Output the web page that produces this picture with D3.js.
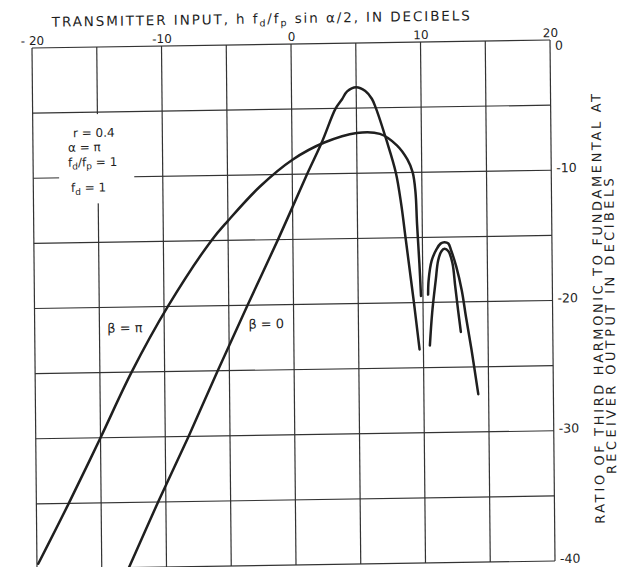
<!DOCTYPE html>
<html><head><meta charset="utf-8">
<script src="https://cdn.jsdelivr.net/npm/d3@7/dist/d3.min.js"></script>
<style>body{margin:0;background:#fff}</style>
</head><body>
<svg id="chart" width="622" height="567"></svg>
<script>
// ---- data ----
const xTickValues = [-20, -10, 0, 10, 20];
const xTickLabels = ["- 20", "-10", "0", "10", "20"];
const yTickValues = [0, -10, -20, -30, -40];
const yTickLabels = ["0", "-10", "-20", "-30", "-40"];
const xGridValues = [-20, -15, -10, -5, 0, 5, 10, 15, 20];
const yGridValues = [0, -5, -10, -15, -20, -25, -30, -35, -40];

// beta = pi : main lobe and second lobe
const betaPiMainX = [-19.9, -17.5, -15, -12.55, -9.7, -6.3, -5, -2.5, 0, 2.5, 5, 6.8, 8.1, 8.9, 9.3, 9.5, 9.6, 9.75, 9.85];
const betaPiMainY = [-39.6, -35, -30, -25, -20, -15, -13.5, -10.9, -8.9, -7.6, -6.9, -7.0, -7.9, -9.0, -10, -11.5, -14, -17, -19.5];
const betaPiLobeX = [10.4, 10.45, 10.7, 11.1, 11.4, 11.7, 12.0, 12.2, 12.6, 13.0, 13.3, 13.7, 14.2];
const betaPiLobeY = [-19.4, -18.3, -16.8, -15.9, -15.5, -15.4, -15.5, -16.0, -17.3, -19.1, -21.1, -23.6, -27.1];

// beta = 0 : main lobe and second lobe
const betaZeroMainX = [-12.9, -10.6, -8.2, -5.9, -3.55, -1.15, 1.15, 2.3, 3.4, 3.9, 4.3, 5, 5.7, 6.2, 6.5, 7.3, 8.0, 8.4, 8.7, 9.0, 9.3, 9.7];
const betaZeroMainY = [-40, -35, -30, -25, -20, -15, -10, -7.6, -5, -4.3, -3.7, -3.4, -3.7, -4.3, -5, -7.5, -10, -12.5, -15, -17.5, -20, -23.6];
const betaZeroLobeX = [10.5, 10.7, 11.0, 11.2, 11.45, 11.7, 12.0, 12.3, 12.5, 12.7, 12.9];
const betaZeroLobeY = [-23.3, -20.8, -18.3, -16.8, -16.1, -15.9, -16.1, -17.0, -18.8, -20.6, -22.3];

const rightTitle1 = "RATIO OF THIRD HARMONIC TO FUNDAMENTAL AT";
const rightTitle2 = "RECEIVER OUTPUT IN DECIBELS";

// ---- layout ----
const W = 518, H = 521;
const FONT = "'DejaVu Sans', sans-serif";
const INK = "#1f1f1f";
const x = d3.scaleLinear().domain([-20, 20]).range([0, W]);
const y = d3.scaleLinear().domain([0, -40]).range([0, H]);

const svg = d3.select("#chart");
svg.append("rect").attr("width", 622).attr("height", 567).attr("fill", "#fff");
// the scanned sheet is slightly skewed
const g = svg.append("g").attr("transform", "matrix(1,-0.0154,0.0096,1,32,48)");

// grid
const grid = g.append("g").attr("stroke", "#333").attr("stroke-width", 1.2).attr("fill", "none");
grid.selectAll("line.v").data(xGridValues).join("line").attr("class", "v")
  .attr("x1", d => x(d)).attr("x2", d => x(d)).attr("y1", y(0)).attr("y2", y(-40));
grid.selectAll("line.h").data(yGridValues).join("line").attr("class", "h")
  .attr("x1", x(-20)).attr("x2", x(20)).attr("y1", d => y(d)).attr("y2", d => y(d));

// white patch behind the parameter notes
g.append("rect").attr("x", x(-18.0)).attr("y", y(-5.15))
  .attr("width", x(-12.2) - x(-18.0)).attr("height", y(-12.0) - y(-5.15)).attr("fill", "#fff");

// curves
const line = d3.line().x(d => x(d[0])).y(d => y(d[1])).curve(d3.curveCatmullRom.alpha(0.5));
const series = [
  [betaPiMainX, betaPiMainY], [betaPiLobeX, betaPiLobeY],
  [betaZeroMainX, betaZeroMainY], [betaZeroLobeX, betaZeroLobeY]
];
g.append("g").selectAll("path").data(series).join("path")
  .attr("d", s => line(s[0].map((v, i) => [v, s[1][i]])))
  .attr("fill", "none").attr("stroke", INK).attr("stroke-width", 2.5)
  .attr("stroke-linecap", "round").attr("stroke-linejoin", "round");

// top axis
const topAxis = g.append("g")
  .call(d3.axisTop(x).tickValues(xTickValues).tickSize(0).tickPadding(3).tickFormat((d, i) => xTickLabels[i]));
topAxis.select(".domain").remove();
topAxis.selectAll("text").attr("font-family", FONT).attr("font-size", 12).attr("fill", INK);

// right axis
const rightAxis = g.append("g").attr("transform", `translate(${W},0)`)
  .call(d3.axisRight(y).tickValues(yTickValues).tickSize(0).tickPadding(5).tickFormat((d, i) => yTickLabels[i]));
rightAxis.select(".domain").remove();
rightAxis.selectAll("text").attr("font-family", FONT).attr("font-size", 12.5).attr("fill", INK)
  .attr("dy", (d) => d === 0 ? "0.75em" : "0.12em");

// title
const t = g.append("text").attr("x", 20).attr("y", -21)
  .attr("font-family", FONT).attr("font-size", 13.5).attr("fill", INK)
  .attr("textLength", 418).attr("lengthAdjust", "spacing");
t.append("tspan").text("TRANSMITTER INPUT, h f");
t.append("tspan").attr("font-size", 9.5).attr("dy", 3).text("d");
t.append("tspan").attr("dy", -3).text("/f");
t.append("tspan").attr("font-size", 9.5).attr("dy", 3).text("p");
t.append("tspan").attr("dy", -3).text(" sin α/2, IN DECIBELS");

// right title (rotated)
g.append("text").attr("transform", `translate(${W + 50},${y(-37.2)}) rotate(-90)`)
  .attr("font-family", FONT).attr("font-size", 13).attr("fill", INK)
  .attr("textLength", 430).attr("lengthAdjust", "spacing").text(rightTitle1);
g.append("text").attr("transform", `translate(${W + 62},${y(-33.4)}) rotate(-90)`)
  .attr("font-family", FONT).attr("font-size", 13).attr("fill", INK)
  .attr("textLength", 296).attr("lengthAdjust", "spacing").text(rightTitle2);

// parameter notes
const notes = g.append("g").attr("font-family", FONT).attr("font-size", 12).attr("fill", INK);
notes.append("text").attr("x", x(-16.9)).attr("y", y(-6.9)).text("r = 0.4");
notes.append("text").attr("x", x(-17.3)).attr("y", y(-8.0)).text("α = π");
const n3 = notes.append("text").attr("x", x(-17.3)).attr("y", y(-9.15));
n3.append("tspan").text("f");
n3.append("tspan").attr("font-size", 9).attr("dy", 3).text("d");
n3.append("tspan").attr("dy", -3).text("/f");
n3.append("tspan").attr("font-size", 9).attr("dy", 3).text("p");
n3.append("tspan").attr("dy", -3).text(" = 1");
const n4 = notes.append("text").attr("x", x(-17.1)).attr("y", y(-11.1));
n4.append("tspan").text("f");
n4.append("tspan").attr("font-size", 9).attr("dy", 3).text("d");
n4.append("tspan").attr("dy", -3).text(" = 1");

// curve labels
const labels = g.append("g").attr("font-family", FONT).attr("font-size", 13).attr("fill", INK);
labels.append("text").attr("x", x(-14.4)).attr("y", y(-21.95)).text("β = π");
labels.append("text").attr("x", x(-3.5)).attr("y", y(-21.8)).text("β = 0");
</script>
</body></html>
